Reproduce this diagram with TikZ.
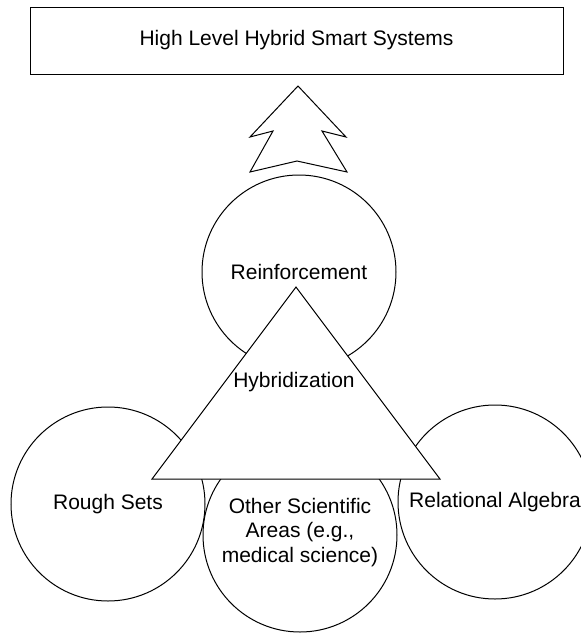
\documentclass[tikz,border=0pt]{standalone}
\usepackage{fontspec}
\setmainfont{Liberation Sans}
\usetikzlibrary{shapes}

\begin{document}
\begin{tikzpicture}[x=1pt,y=-1pt]
		\tikzstyle {area} = [draw, circle, line width=1pt, minimum size=194pt, inner sep=0pt, align=center, font=\fontsize{21}{24.5}\selectfont]
		\tikzstyle {outline} = [line width=1pt, line join=miter]
		\useasboundingbox (0,0) rectangle (581,635);

		\node[draw, outline, minimum width=533pt, minimum height=67pt, font=\fontsize{21}{24}\selectfont] (top) at (296.5,40.5) {High Level Hybrid Smart Systems};

		\draw[outline] (298,86) -- (250,137) -- (273,131) -- (250,172) -- (297,161)
			-- (347,172) -- (322,131) -- (346,137) -- cycle;

		\node[area] (reinf) at (299,272) {Reinforcement};
		\node[area] (rough) at (108,504) {Rough Sets};
		\node[area] (relational) at (495,502) {Relational Algebra};
		\node[area, text depth=10pt] (other) at (300,535) {Other Scientific\\Areas (e.g.,\\medical science)};

		\coordinate (apex) at (296,287);
		\coordinate (base left) at (152,479);
		\coordinate (base right) at (440,479);
		\draw[outline, fill=white] (apex) -- (base left) -- (base right) -- cycle;
		\node[font=\fontsize{21}{24}\selectfont] (hybrid) at (294,382) {Hybridization};
	\end{tikzpicture}
\end{document}
